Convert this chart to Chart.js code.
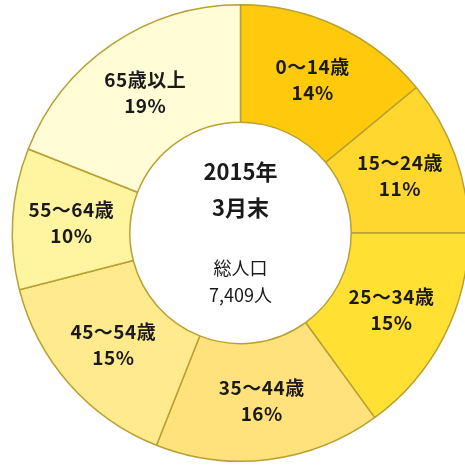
<!DOCTYPE html>
<html>
<head>
<meta charset="utf-8">
<script src="https://cdn.jsdelivr.net/npm/chart.js@4/dist/chart.umd.min.js"></script>
<style>
html,body{margin:0;padding:0;background:#fff;overflow:hidden;width:465px;height:469px;}
canvas{display:block;}
</style>
</head>
<body>
<canvas id="c" width="470" height="469"></canvas>
<script>
const categories = ["0～14歳", "15～24歳", "25～34歳", "35～44歳", "45～54歳", "55～64歳", "65歳以上"];
const percents = [14, 11, 15, 16, 15, 10, 19];
const colors = ["#FFC90C", "#FFD72E", "#FFE033", "#FFE27C", "#FFEA8E", "#FFF49F", "#FFFCD6"];
const centerTitle = ["2015年", "3月末"];
const centerSub = ["総人口", "7,409人"];

const FONT = '"Noto Sans CJK JP", "Noto Sans", sans-serif';

const labelPlugin = {
  id: 'sliceLabels',
  afterDatasetsDraw(chart) {
    const ctx = chart.ctx;
    const meta = chart.getDatasetMeta(0);
    ctx.save();
    ctx.textAlign = 'center';
    ctx.textBaseline = 'middle';
    ctx.fillStyle = '#1a1a1a';
    ctx.font = 'bold 19px ' + FONT;
    if ('letterSpacing' in ctx) ctx.letterSpacing = '0.5px';
    meta.data.forEach((arc, i) => {
      const p = arc.tooltipPosition();
      ctx.fillText(chart.data.labels[i], p.x, p.y - 13);
      ctx.fillText(chart.data.datasets[0].data[i] + '%', p.x, p.y + 13);
    });
    if ('letterSpacing' in ctx) ctx.letterSpacing = '0px';
    const a = meta.data[0];
    const cx = a.x, cy = a.y;
    ctx.font = 'bold 22px ' + FONT;
    ctx.fillText(centerTitle[0], cx, cy - 61);
    ctx.fillText(centerTitle[1], cx, cy - 25);
    ctx.font = '18px ' + FONT;
    ctx.fillText(centerSub[0], cx, cy + 35);
    ctx.fillText(centerSub[1], cx, cy + 62);
    ctx.restore();
  }
};

new Chart(document.getElementById('c'), {
  type: 'doughnut',
  data: {
    labels: categories,
    datasets: [{
      data: percents,
      backgroundColor: colors,
      borderColor: '#B9A032',
      borderWidth: 1.5,
      hoverOffset: 0
    }]
  },
  options: {
    responsive: false,
    animation: false,
    cutout: '48.5%',
    layout: { padding: { left: 11, right: 0, top: 4, bottom: 7 } },
    plugins: {
      legend: { display: false },
      tooltip: { enabled: false }
    }
  },
  plugins: [labelPlugin]
});
</script>
</body>
</html>
